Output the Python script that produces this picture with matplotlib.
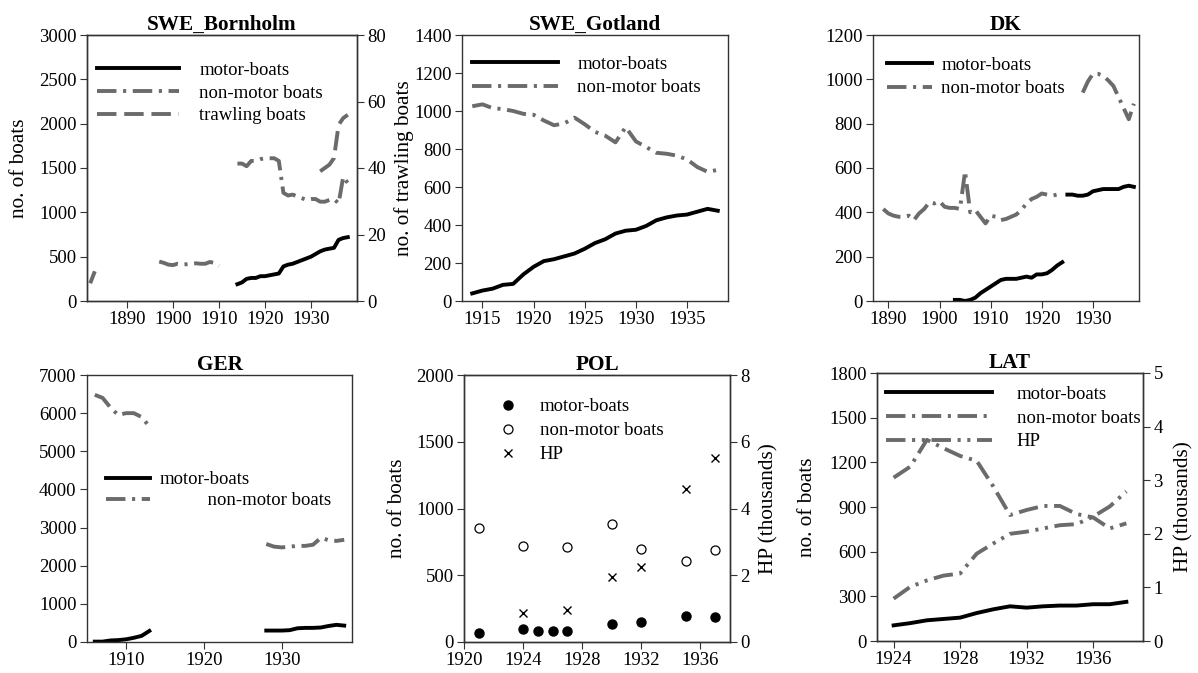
from matplotlib import pyplot as plt
import numpy as np

plt.rcParams['font.family'] = ['Liberation Serif', 'DejaVu Serif']
plt.rcParams['font.size'] = 13.5
plt.rcParams['xtick.direction'] = 'out'
plt.rcParams['ytick.direction'] = 'out'
plt.rcParams['xtick.major.size'] = 5
plt.rcParams['ytick.major.size'] = 5
plt.rcParams['xtick.major.pad'] = 2.5
plt.rcParams['ytick.major.pad'] = 2.5
plt.rcParams['axes.linewidth'] = 1.0
plt.rcParams['axes.edgecolor'] = '#333333'

nan = np.nan
GREY = '#6b6b6b'

# ---- SWE_Bornholm
bor_years = np.arange(1882, 1939)
bor_non = [200, 335, nan, nan, nan, nan, nan, nan, nan, nan, nan, nan, nan, nan, nan,
           445, 430, 410, 405, 420, 410, 415, 420, 425, 420, 420, 440, 430, 395,
           nan, nan, nan,
           1550, 1550, 1520, 1580, 1580, 1600, 1610, 1610, 1610, 1580,
           1220, 1190, 1200, 1180, 1160, 1140, 1150, 1150, 1120, 1120, 1140, 1150, 1100, 1400, 1330]
bor_motor = [nan] * 32 + [190, 210, 250, 260, 260, 280, 280, 290, 300, 310,
                          390, 410, 420, 440, 460, 480, 500, 530, 560, 580, 590, 600, 690, 710, 720]
bor_trawl = [nan] * 50 + [39, 40, 41, 43, 53, 55, 56]

# ---- SWE_Gotland
got_years = np.arange(1914, 1939)
got_motor = [40, 55, 65, 85, 90, 140, 180, 210, 220, 235, 250, 275, 305, 325, 355, 370,
             375, 395, 425, 440, 450, 455, 470, 485, 475]
got_non = [1025, 1035, 1015, 1010, 1000, 985, 980, 950, 925, 935, 965, 930, 890, 870, 835,
           915, 840, 810, 780, 775, 765, 745, 705, 680, 690]

# ---- DK
dk_years = np.arange(1889, 1939)
dk_non = [415, 395, 385, 380, 380, 385, 365, 395, 415, 445, 440, 450, 425, 420, 420, 415,
          585, 400, 410, 380, 350, 385, 380, 365, 370, 380, 390, 410, 440, 460, 470, 485,
          480, 475, 480, 475,
          nan, nan, nan,
          940, 990, 1025, 1025, 1015, 995, 970, 920, 870, 820, 890]
dk_years_m1 = np.arange(1903, 1925)
dk_motor1 = [5, 5, 0, 5, 15, 35, 50, 65, 80, 95, 100, 100, 100, 105, 110, 105,
             120, 120, 125, 140, 160, 175]
dk_years_m2 = np.arange(1925, 1939)
dk_motor2 = [480, 480, 475, 475, 480, 495, 500, 505, 505, 505, 505, 515, 520, 515]

# ---- GER
ger_years = np.arange(1906, 1939)
ger_non = [6480, 6400, 6150, 5950, 6000, 6000, 5900, 5650] + [nan] * 14 + \
          [2570, 2500, 2480, 2500, 2520, 2520, 2550, 2730, 2670, 2650, 2680]
ger_motor = [10, 10, 40, 50, 70, 110, 160, 290] + [nan] * 14 + \
            [300, 300, 300, 310, 360, 370, 370, 380, 420, 450, 430]

# ---- POL
pol_years_m = [1921, 1924, 1925, 1926, 1927, 1930, 1932, 1935, 1937]
pol_motor = [68, 95, 83, 83, 83, 133, 148, 193, 190]
pol_years_n = [1921, 1924, 1927, 1930, 1932, 1935, 1937]
pol_non = [855, 718, 710, 885, 695, 605, 690]
pol_years_hp = [1924, 1927, 1930, 1932, 1935, 1937]
pol_hp = [0.88, 0.97, 1.95, 2.26, 4.57, 5.51]

# ---- LAT
lat_years = np.arange(1924, 1939)
lat_motor = [105, 120, 139, 148, 157, 188, 213, 233, 224, 233, 238, 238, 247, 247, 263]
lat_non = [1097, 1171, 1351, 1295, 1243, 1210, 1037, 846, 880, 907, 907, 853, 830, 756, 790]
lat_hp = [0.79, 1.01, 1.13, 1.22, 1.26, 1.63, 1.82, 2.0, 2.04, 2.10, 2.16, 2.18, 2.32, 2.51, 2.79]

LW = 2.8
ls_non = (0, (5.0, 1.7, 0.8, 1.7))
ls_trawl = (0, (5.0, 2.0))
ls_hp = (0, (5.0, 1.7, 0.8, 1.7, 0.8, 1.7))
TS = 13.5   # tick labels
LS = 15.3   # axis labels
FS = 13.5   # legend

W, H = 1198, 673
fig = plt.figure(figsize=(W / 100, H / 100), dpi=100)


def box(x0, y0, x1, y1):
    return fig.add_axes([x0 / W, 1 - y1 / H, (x1 - x0) / W, (y1 - y0) / H])


def style(ax, title):
    ax.set_title(title, fontweight='bold', fontsize=15.3, pad=3)
    ax.tick_params(labelsize=TS, top=False, right=False, color='#333333')


def leg(ax, handles, x, y, hl, tp, sp=0.3):
    ax.legend(handles=handles, loc='upper left', bbox_to_anchor=(x, y), frameon=False,
              fontsize=FS, handlelength=hl, handletextpad=tp, labelspacing=sp,
              borderaxespad=0, borderpad=0)


# SWE_Bornholm
ax1 = box(87, 35, 357, 301)
l1, = ax1.plot(bor_years, bor_motor, color='black', lw=LW, label='motor-boats')
l2, = ax1.plot(bor_years, bor_non, color=GREY, lw=LW, ls=ls_non, label='non-motor boats')
ax1.set_xlim(1881.3, 1940)
ax1.set_ylim(0, 3000)
ax1.set_xticks([1890, 1900, 1910, 1920, 1930])
ax1.set_ylabel('no. of boats', fontsize=LS, labelpad=7)
style(ax1, 'SWE_Bornholm')
ax1b = ax1.twinx()
l3, = ax1b.plot(bor_years, bor_trawl, color=GREY, lw=LW, ls=ls_trawl, label='trawling boats')
ax1b.set_ylim(0, 80)
ax1b.set_yticks([0, 20, 40, 60, 80])
ax1b.tick_params(labelsize=TS, color='#333333')
ax1b.set_ylabel('no. of trawling boats', fontsize=LS, labelpad=6)
leg(ax1, [l1, l2, l3], 0.037, 0.899, 4.4, 1.06)

# SWE_Gotland
ax2 = box(462, 35, 728, 301)
g1, = ax2.plot(got_years, got_motor, color='black', lw=LW, label='motor-boats')
g2, = ax2.plot(got_years, got_non, color=GREY, lw=LW, ls=ls_non, label='non-motor boats')
ax2.set_xlim(1913, 1939)
ax2.set_ylim(0, 1400)
ax2.set_xticks([1915, 1920, 1925, 1930, 1935])
style(ax2, 'SWE_Gotland')
leg(ax2, [g1, g2], 0.038, 0.922, 4.6, 1.0, sp=0.33)

# DK
ax3 = box(873, 35, 1139, 301)
d1, = ax3.plot(dk_years_m1, dk_motor1, color='black', lw=LW, label='motor-boats')
ax3.plot(dk_years_m2, dk_motor2, color='black', lw=LW)
d2, = ax3.plot(dk_years, dk_non, color=GREY, lw=LW, ls=ls_non, label='non-motor boats')
ax3.set_xlim(1887, 1939)
ax3.set_ylim(0, 1200)
ax3.set_xticks([1890, 1900, 1910, 1920, 1930])
style(ax3, 'DK')
leg(ax3, [d1, d2], 0.053, 0.918, 2.4, 0.5, sp=0.33)

# GER
ax4 = box(87, 375, 352, 642)
e1, = ax4.plot(ger_years, ger_motor, color='black', lw=LW, label='motor-boats')
e2, = ax4.plot(ger_years, ger_non, color=GREY, lw=LW, ls=ls_non,
               label='          non-motor boats')
ax4.set_xlim(1905, 1939)
ax4.set_ylim(0, 7000)
ax4.set_xticks([1910, 1920, 1930])
style(ax4, 'GER')
leg(ax4, [e1, e2], 0.072, 0.64, 2.35, 0.53, sp=0.2)

# POL
ax5 = box(464, 375, 730, 642)
p1, = ax5.plot(pol_years_m, pol_motor, 'o', color='black', ms=6.5, label='motor-boats')
p2, = ax5.plot(pol_years_n, pol_non, 'o', mfc='white', mec='black', mew=0.9, ms=6.5,
               label='non-motor boats')
ax5.set_xlim(1920, 1938)
ax5.set_ylim(0, 2000)
ax5.set_xticks([1920, 1924, 1928, 1932, 1936])
ax5.set_yticks([0, 500, 1000, 1500, 2000])
ax5.set_ylabel('no. of boats', fontsize=LS, labelpad=6.5)
style(ax5, 'POL')
ax5b = ax5.twinx()
p3, = ax5b.plot(pol_years_hp, pol_hp, 'x', color='black', ms=6, mew=1.0, label='HP')
ax5b.set_ylim(0, 8)
ax5b.set_yticks([0, 2, 4, 6, 8])
ax5b.tick_params(labelsize=TS, color='#333333')
ax5b.set_ylabel('HP (thousands)', fontsize=LS, labelpad=7)
leg(ax5, [p1, p2, p3], 0.13, 0.913, 1.0, 1.2, sp=0.36)

# LAT
ax6 = box(877, 373, 1143, 641)
q1, = ax6.plot(lat_years, lat_motor, color='black', lw=LW, label='motor-boats')
q2, = ax6.plot(lat_years, lat_non, color=GREY, lw=LW, ls=ls_non, label='non-motor boats')
ax6.set_xlim(1923, 1939)
ax6.set_ylim(0, 1800)
ax6.set_xticks([1924, 1928, 1932, 1936])
ax6.set_yticks([0, 300, 600, 900, 1200, 1500, 1800])
ax6.set_ylabel('no. of boats', fontsize=LS, labelpad=8.5)
style(ax6, 'LAT')
ax6b = ax6.twinx()
q3, = ax6b.plot(lat_years, lat_hp, color=GREY, lw=LW, ls=ls_hp, label='HP')
ax6b.set_ylim(0, 5)
ax6b.set_yticks([0, 1, 2, 3, 4, 5])
ax6b.tick_params(labelsize=TS, color='#333333')
ax6b.set_ylabel('HP (thousands)', fontsize=LS, labelpad=8.5)
leg(ax6, [q1, q2, q3], 0.034, 0.952, 5.64, 1.33, sp=0.35)

fig.savefig('out.png', dpi=100)
